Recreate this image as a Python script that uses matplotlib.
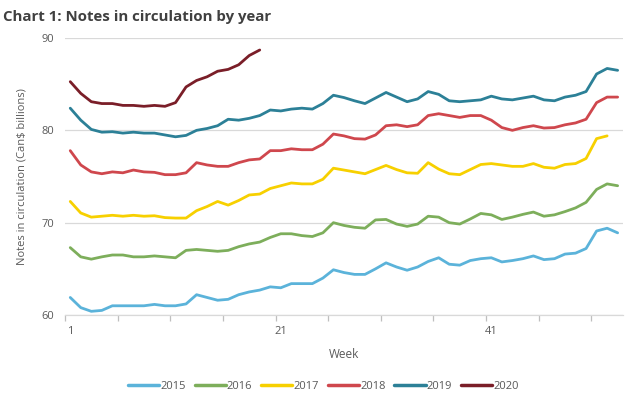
import matplotlib
matplotlib.use("Agg")
import matplotlib.pyplot as plt
import numpy as np

years = ["2015", "2016", "2017", "2018", "2019", "2020"]
colors = ["#5BB3DA", "#7DAE5B", "#F7D000", "#CF474D", "#2C8097", "#7A1E28"]

v2015 = [61.9, 60.8, 60.4, 60.5, 61.0, 61.0, 61.0, 61.0, 61.15, 61.0, 61.0, 61.2, 62.2, 61.9, 61.6, 61.7,
         62.2, 62.5, 62.7, 63.05, 62.95, 63.4, 63.4, 63.4, 64.0, 64.9, 64.6, 64.4, 64.4, 65.0, 65.65, 65.2,
         64.85, 65.2, 65.8, 66.2, 65.5, 65.4, 65.9, 66.1, 66.2, 65.75, 65.9, 66.1, 66.4, 66.0, 66.1, 66.6,
         66.7, 67.2, 69.1, 69.4, 68.9]
v2016 = [67.3, 66.3, 66.05, 66.3, 66.5, 66.5, 66.3, 66.3, 66.4, 66.3, 66.2, 67.0, 67.1, 67.0, 66.9, 67.0,
         67.4, 67.7, 67.9, 68.4, 68.8, 68.8, 68.6, 68.5, 68.9, 70.0, 69.7, 69.5, 69.4, 70.3, 70.35, 69.85,
         69.6, 69.85, 70.7, 70.6, 70.0, 69.85, 70.4, 71.0, 70.85, 70.35, 70.6, 70.9, 71.15, 70.7, 70.85, 71.2,
         71.6, 72.2, 73.6, 74.2, 74.0]
v2017 = [72.3, 71.05, 70.6, 70.7, 70.8, 70.7, 70.8, 70.7, 70.75, 70.55, 70.5, 70.5, 71.3, 71.75, 72.3, 71.9,
         72.4, 73.0, 73.1, 73.7, 74.0, 74.3, 74.2, 74.2, 74.7, 75.9, 75.7, 75.5, 75.3, 75.75, 76.2, 75.75,
         75.4, 75.35, 76.5, 75.8, 75.3, 75.2, 75.75, 76.3, 76.4, 76.25, 76.1, 76.1, 76.4, 76.0, 75.9, 76.3,
         76.4, 76.95, 79.1, 79.4]
v2018 = [77.8, 76.25, 75.5, 75.3, 75.5, 75.4, 75.7, 75.5, 75.45, 75.2, 75.2, 75.4, 76.5, 76.25, 76.1, 76.1,
         76.5, 76.8, 76.9, 77.8, 77.8, 78.0, 77.9, 77.9, 78.5, 79.6, 79.4, 79.1, 79.05, 79.5, 80.5, 80.6,
         80.4, 80.6, 81.6, 81.8, 81.6, 81.4, 81.6, 81.6, 81.1, 80.3, 80.0, 80.3, 80.5, 80.25, 80.3, 80.6,
         80.8, 81.2, 83.0, 83.6, 83.6]
v2019 = [82.4, 81.1, 80.1, 79.8, 79.85, 79.7, 79.8, 79.7, 79.7, 79.5, 79.3, 79.45, 80.0, 80.2, 80.5, 81.2,
         81.1, 81.3, 81.6, 82.2, 82.1, 82.3, 82.4, 82.3, 82.9, 83.8, 83.55, 83.2, 82.9, 83.5, 84.1, 83.6,
         83.1, 83.4, 84.2, 83.9, 83.2, 83.1, 83.2, 83.3, 83.7, 83.4, 83.3, 83.5, 83.7, 83.3, 83.2, 83.6,
         83.8, 84.2, 86.1, 86.7, 86.5]
v2020 = [85.27, 84.0, 83.1, 82.9, 82.9, 82.7, 82.7, 82.6, 82.7, 82.6, 83.0, 84.7, 85.4, 85.8, 86.4, 86.6,
         87.1, 88.1, 88.7]
series = [v2015, v2016, v2017, v2018, v2019, v2020]

yticks = [60, 70, 80, 90]
xtick_labels = ["1", "21", "41"]

plt.rcParams['font.family'] = ['Open Sans', 'DejaVu Sans']
fig = plt.figure(figsize=(6.34, 3.97), dpi=100)
ax = fig.add_axes([0.1025, 0.2065, 0.88, 0.6978])

for name, vals, c in zip(years, series, colors):
    weeks = np.arange(1, len(vals) + 1)
    ax.plot(weeks, vals, color=c, lw=2.0, label=name, solid_capstyle='round', solid_joinstyle='round')

ax.set_xlim(0.5, 53.5)
ax.set_ylim(60, 90)
ax.set_yticks(yticks)
ax.set_yticklabels([str(t) for t in yticks])
ax.yaxis.grid(True, color="#D9D9D9", lw=0.9)
ax.set_axisbelow(True)
ax.tick_params(axis='y', length=0, labelsize=8, colors="#595959", pad=8)

ax.set_xticks([int(s) for s in xtick_labels])
ax.set_xticklabels(xtick_labels)
ax.set_xticks(np.arange(0.5, 53.5, 5), minor=True)
ax.tick_params(axis='x', which='major', length=0, labelsize=8, colors="#595959", pad=8)
ax.tick_params(axis='x', which='minor', length=4, color="#BFBFBF", width=0.9)

for s in ['top', 'right', 'left']:
    ax.spines[s].set_visible(False)
ax.spines['bottom'].set_color("#D9D9D9")
ax.spines['bottom'].set_linewidth(0.9)

ax.set_xlabel("Week", fontsize=8.5, color="#595959", labelpad=8)
ax.set_ylabel("Notes in circulation (Can$ billions)", fontsize=8, color="#595959", labelpad=10)

fig.text(0.005, 0.975, "Chart 1: Notes in circulation by year", fontsize=10.8, fontweight='bold',
         color="#404040", ha='left', va='top')

leg = fig.legend(loc='center', bbox_to_anchor=(0.51, 0.027), ncol=6, frameon=False, fontsize=8,
                 handlelength=2.8, handletextpad=0.1, columnspacing=0.8, labelcolor="#595959")
for l in leg.get_lines():
    l.set_linewidth(2.5)

fig.savefig("out.png", dpi=100)
